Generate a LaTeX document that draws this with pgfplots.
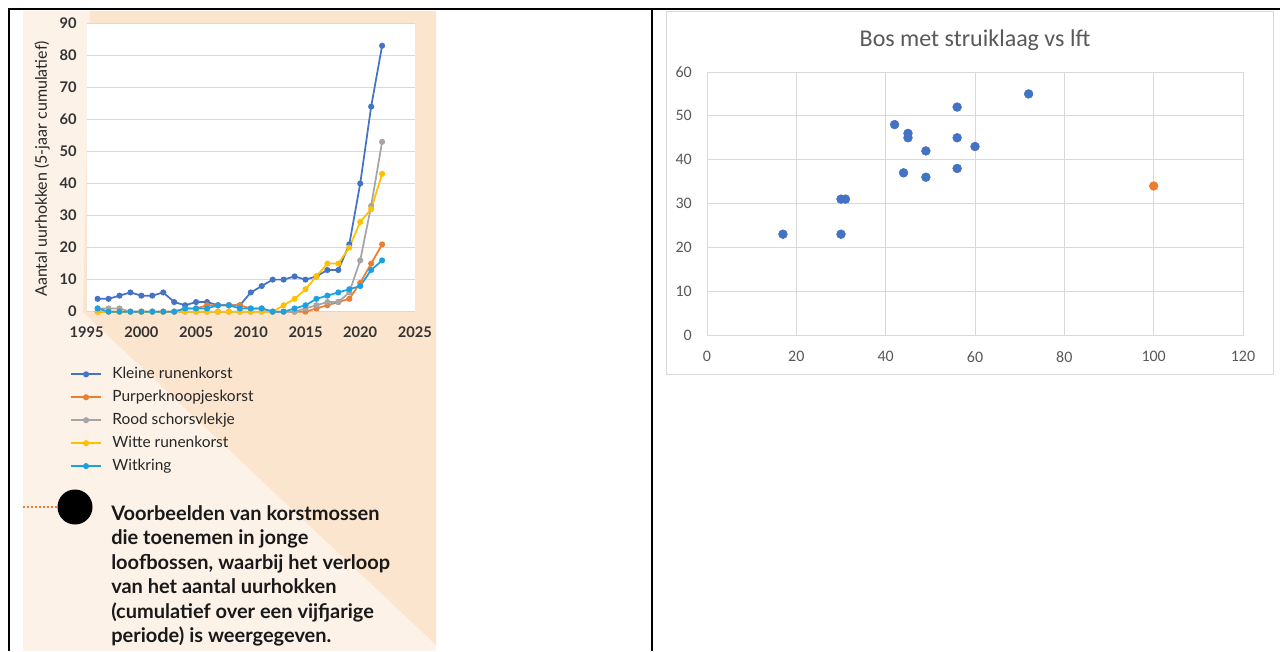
\documentclass[border=0pt]{standalone}
\usepackage{pgfplots}
\pgfplotsset{compat=1.18}
\usepackage{fontspec}
\setmainfont{Lato}
\newfontfamily\carlito{Carlito}

\definecolor{peachlt}{HTML}{FDF2E8}
\definecolor{peachdk}{HTML}{FCE5CF}
\definecolor{kleine}{HTML}{4472C4}
\definecolor{purper}{HTML}{ED7D31}
\definecolor{rood}{HTML}{A5A5A5}
\definecolor{witte}{HTML}{FFC000}
\definecolor{witkring}{HTML}{1BA1E2}
\definecolor{gridc}{HTML}{D9D9D9}
\definecolor{txtgrey}{HTML}{595959}

\begin{document}
\begin{tikzpicture}
% page layout in pixel coordinates of the reference (y downwards)
\begin{scope}[x=0.75pt, y=-0.75pt, shift={(0pt,488.25pt)}]
  \path[use as bounding box] (0,0) rectangle (1280,651);
  \fill[white] (0,0) rectangle (1280,651);
  \fill[peachlt] (23,11) rectangle (436,651);
  \fill[peachdk] (90,11) -- (436,11) -- (436,645) -- (83,312) -- cycle;
  \draw[line width=1.5pt] (8,9.5) -- (1280,9.5);
  \draw[line width=1.5pt] (9,9.5) -- (9,651);
  \draw[line width=1.5pt] (652,9.5) -- (652,651);
  \draw[gridc, line width=0.75pt] (666,11.5) rectangle (1273,374);
  \draw[purper, line width=1.3pt, dash pattern=on 1.3pt off 1.7pt] (23,507) -- (57,507);
  \fill[black] (75,507) circle [radius=17.5];
  \node[anchor=north west, inner sep=0pt, align=left, text=black!90,
        font=\bfseries\fontsize{15}{18.4}\selectfont] at (111,505)
    {Voorbeelden van korstmossen\\
     die toenemen in jonge\\
     loofbossen, waarbij het verloop\\
     van het aantal uurhokken\\
     (cumulatief over een vijfjarige\\
     periode) is weergegeven.};
\end{scope}

% left chart: lichens, 5-year cumulative hour squares
\begin{axis}[
    at={(65.0pt,254.5pt)}, anchor=south west,
    scale only axis, width=246.2pt, height=216.3pt,
    xmin=1995, xmax=2025, ymin=0, ymax=90,
    xtick={1995,2000,...,2025}, ytick={0,10,...,90},
    axis background/.style={fill=white},
    axis line style={draw=none},
    major tick length=0pt,
    ymajorgrids, grid style={gridc, line width=1.1pt},
    clip=false,
    /pgf/number format/assume math mode=true,
    /pgf/number format/1000 sep={},
    tick label style={font=\bfseries\fontsize{11}{13}\selectfont, text=black!80},
    yticklabel style={inner sep=0pt, xshift=-7.3pt},
    xticklabel style={inner sep=0pt, yshift=-11.3pt},
    ylabel={Aantal uurhokken (5-jaar cumulatief)},
    ylabel style={at={(axis description cs:-0.136,0.495)}, anchor=center,
                  font=\fontsize{12}{14}\selectfont, text=black!85},
    every axis plot/.append style={line width=1.3pt, mark=*, mark size=1.6pt},
    legend style={at={(axis description cs:-0.051,-0.191)}, anchor=north west,
                  draw=none, fill=none, inner sep=0pt, row sep=6.2pt,
                  font=\fontsize{11.6}{13}\selectfont, text=black!85,
                  nodes={inner sep=0pt, text height=8.5pt, text depth=2.5pt},
                  /tikz/every odd column/.append style={column sep=7.8pt}},
    legend cell align=left,
    legend image code/.code={\draw[mark repeat=2,mark phase=2,#1]
        plot coordinates {(0pt,0pt) (11.25pt,0pt) (22.5pt,0pt)};},
  ]
  \addplot[color=kleine] coordinates {
    (1996,4) (1997,4) (1998,5) (1999,6) (2000,5) (2001,5) (2002,6) (2003,3)
    (2004,2) (2005,3) (2006,3) (2007,2) (2008,2) (2009,2) (2010,6) (2011,8)
    (2012,10) (2013,10) (2014,11) (2015,10) (2016,11) (2017,13) (2018,13)
    (2019,21) (2020,40) (2021,64) (2022,83)
  };
  \addplot[color=purper] coordinates {
    (1996,0) (1997,0) (1998,0) (1999,0) (2000,0) (2001,0) (2002,0) (2003,0)
    (2004,1) (2005,1) (2006,2) (2007,2) (2008,2) (2009,2) (2010,1) (2011,1)
    (2012,0) (2013,0) (2014,0) (2015,0) (2016,1) (2017,2) (2018,3)
    (2019,4) (2020,9) (2021,15) (2022,21)
  };
  \addplot[color=rood] coordinates {
    (1996,1) (1997,1) (1998,1) (1999,0) (2000,0) (2001,0) (2002,0) (2003,0)
    (2004,0) (2005,0) (2006,0) (2007,0) (2008,0) (2009,0) (2010,0) (2011,0)
    (2012,0) (2013,0) (2014,0) (2015,1) (2016,2) (2017,3) (2018,3)
    (2019,6) (2020,16) (2021,33) (2022,53)
  };
  \addplot[color=witte] coordinates {
    (1996,0) (1997,0) (1998,0) (1999,0) (2000,0) (2001,0) (2002,0) (2003,0)
    (2004,0) (2005,0) (2006,0) (2007,0) (2008,0) (2009,0) (2010,0) (2011,0)
    (2012,0) (2013,2) (2014,4) (2015,7) (2016,11) (2017,15) (2018,15)
    (2019,20) (2020,28) (2021,32) (2022,43)
  };
  \addplot[color=witkring] coordinates {
    (1996,1) (1997,0) (1998,0) (1999,0) (2000,0) (2001,0) (2002,0) (2003,0)
    (2004,1) (2005,1) (2006,1) (2007,2) (2008,2) (2009,1) (2010,1) (2011,1)
    (2012,0) (2013,0) (2014,1) (2015,2) (2016,4) (2017,5) (2018,6)
    (2019,7) (2020,8) (2021,13) (2022,16)
  };
  \legend{Kleine runenkorst, Purperknoopjeskorst, Rood schorsvlekje,
          Witte runenkorst, Witkring}
\end{axis}

% right chart: scatter
\begin{axis}[
    at={(530.25pt,237pt)}, anchor=south west,
    scale only axis, width=402pt, height=197.25pt,
    xmin=0, xmax=120, ymin=0, ymax=60,
    xtick={0,20,...,120}, ytick={0,10,...,60},
    grid=major, grid style={gridc, line width=0.75pt},
    axis line style={gridc, line width=0.75pt},
    major tick length=0pt,
    clip=false,
    /pgf/number format/assume math mode=true,
    tick label style={font=\carlito\fontsize{12}{14}\selectfont, text=txtgrey},
    yticklabel style={inner sep=0pt, xshift=-11.25pt},
    xticklabel style={inner sep=0pt, yshift=-12pt},
    every axis title shift=0pt,
    title={Bos met struiklaag vs lft},
    title style={at={(axis description cs:0.5,1.1217)}, anchor=center,
                 font=\carlito\fontsize{18}{20}\selectfont, text=txtgrey},
  ]
  \addplot[only marks, mark=*, mark size=3.3pt, color=kleine] coordinates {
    (17,23) (30,23) (30,31) (31,31) (42,48) (45,46) (45,45) (44,37)
    (49,42) (49,36) (56,52) (56,45) (56,38) (60,43) (72,55)
  };
  \addplot[only marks, mark=*, mark size=3.3pt, color=purper] coordinates {
    (100,34)
  };
\end{axis}
\end{tikzpicture}
\end{document}
